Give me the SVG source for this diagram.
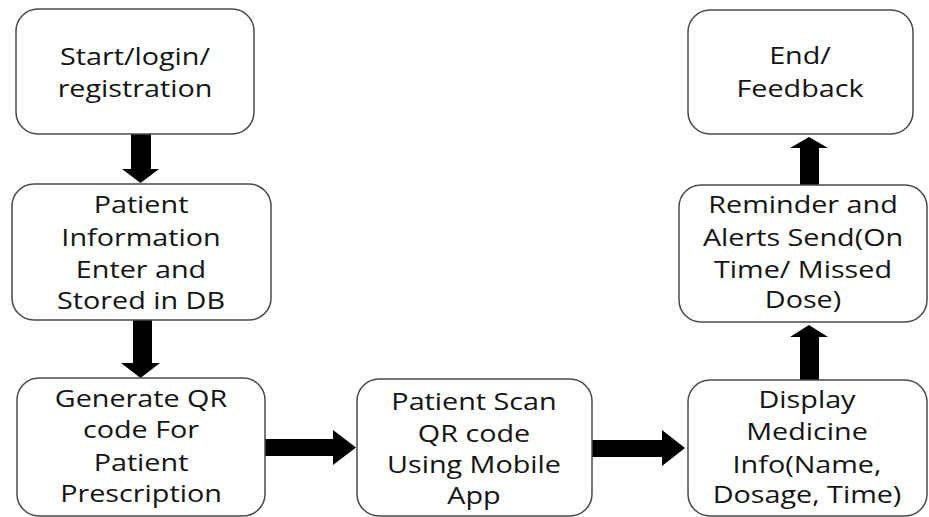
<svg xmlns="http://www.w3.org/2000/svg" width="929" height="517" viewBox="0 0 929 517">
<style>
.box{fill:#fff;stroke:#4a4a4a;stroke-width:1.5}
.t{font-family:"Open Sans",sans-serif;font-size:23px;fill:#141414;text-anchor:middle}
.arr{fill:#000}
</style>
<rect width="929" height="517" fill="#fff"/>
<g id="connectors">
<polygon class="arr" points="131,134 151,134 151,169 159,169 140.5,183 122,169 131,169"/>
<polygon class="arr" points="133,320 152,320 152,363 160,363 140.5,378 121,363 133,363"/>
<polygon class="arr" points="265,439 333,439 333,430 356,447.5 333,465 333,456 265,456"/>
<polygon class="arr" points="592,440 662,440 662,430 685,448 662,466 662,457 592,457"/>
<polygon class="arr" points="800,380 819,380 819,337 828,337 809,325 790,337 800,337"/>
<polygon class="arr" points="800,185 819,185 819,148 828,148 809,137 790,148 800,148"/>
</g>
<g id="n1">
<rect class="box" x="16" y="9" width="238" height="125" rx="22"/>
<g transform="translate(135,0) scale(1.25,1)"><text class="t" x="0" y="65">Start/login/</text><text class="t" x="0" y="97">registration</text></g>
</g>
<g id="n2">
<rect class="box" x="12" y="184" width="259" height="136" rx="22"/>
<g transform="translate(141,0) scale(1.25,1)"><text class="t" x="0" y="213">Patient</text><text class="t" x="0" y="246">Information</text><text class="t" x="0" y="278">Enter and</text><text class="t" x="0" y="309">Stored in DB</text></g>
</g>
<g id="n3">
<rect class="box" x="17" y="378" width="248" height="138" rx="22"/>
<g transform="translate(141,0) scale(1.25,1)"><text class="t" x="0" y="407">Generate QR</text><text class="t" x="0" y="438">code For</text><text class="t" x="0" y="471">Patient</text><text class="t" x="0" y="502">Prescription</text></g>
</g>
<g id="n4">
<rect class="box" x="357" y="379" width="235" height="137" rx="22"/>
<g transform="translate(474,0) scale(1.25,1)"><text class="t" x="0" y="410">Patient Scan</text><text class="t" x="0" y="442">QR code</text><text class="t" x="0" y="473">Using Mobile</text><text class="t" x="0" y="504">App</text></g>
</g>
<g id="n5">
<rect class="box" x="688" y="380" width="239" height="136" rx="22"/>
<g transform="translate(807,0) scale(1.25,1)"><text class="t" x="0" y="408">Display</text><text class="t" x="0" y="440">Medicine</text><text class="t" x="0" y="473">Info(Name,</text><text class="t" x="0" y="503">Dosage, Time)</text></g>
</g>
<g id="n6">
<rect class="box" x="679" y="185" width="248" height="137" rx="22"/>
<g transform="translate(803,0) scale(1.25,1)"><text class="t" x="0" y="213">Reminder and</text><text class="t" x="0" y="246">Alerts Send(On</text><text class="t" x="0" y="278">Time/ Missed</text><text class="t" x="0" y="308">Dose)</text></g>
</g>
<g id="n7">
<rect class="box" x="688" y="10" width="225" height="124" rx="22"/>
<g transform="translate(800,0) scale(1.25,1)"><text class="t" x="0" y="64">End/</text><text class="t" x="0" y="97">Feedback</text></g>
</g>
</svg>
